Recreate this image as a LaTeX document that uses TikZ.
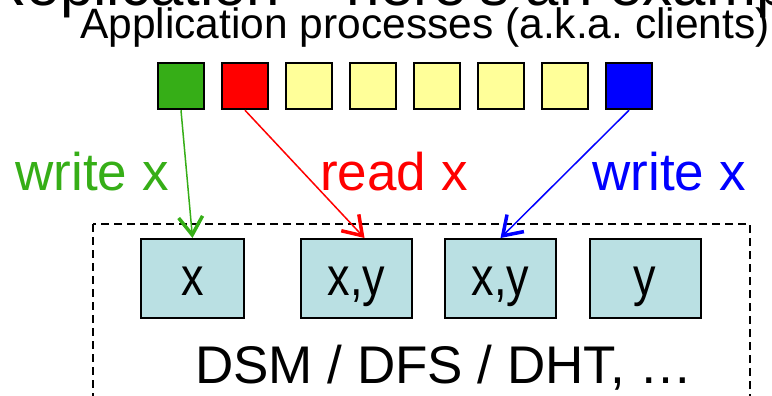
\documentclass[tikz,border=0pt]{standalone}
\usepackage{fontspec}
\setmainfont{Liberation Sans}
\usepackage{tikz}
\usetikzlibrary{arrows.meta,positioning}
\definecolor{app-green}{HTML}{36AE17}
\definecolor{app-yellow}{HTML}{FFFF99}
\definecolor{app-red}{HTML}{FF0000}
\definecolor{app-blue}{HTML}{0000FF}
\definecolor{store-fill}{HTML}{BAE0E3}
\newcommand{\tallx}[1]{\scalebox{1}[1.2]{#1}}
\frenchspacing

\begin{document}
\begin{tikzpicture}[x=1pt, y=-1pt, node distance=15.5pt,
    proc/.style={draw, line width=2.5pt, minimum size=46pt, inner sep=0pt},
    store/.style={draw, line width=2pt, fill=store-fill, minimum width=111pt, minimum height=79pt,
        inner sep=0pt, text height=34pt, text depth=0pt, font=\fontsize{45}{45}\selectfont},
    op/.style={line width=1.5pt, -{Straight Barb[length=18pt,width=24pt,line width=3.5pt]}},
    lbl/.style={font=\fontsize{53}{53}\selectfont, anchor=base}]
    \useasboundingbox (0,0) rectangle (772,396);
    \clip (0,0) rectangle (772,396);
    % slide title, mostly cut off
    \node[anchor=base west, font=\fontsize{60}{60}\selectfont] (title) at (-20,6) {Replication – here's an example};
    \node[anchor=base, font=\fontsize{42.5}{42.5}\selectfont] (apps) at (425,39) {Application processes (a.k.a. clients)};
    % clients
    \node[proc, fill=app-green] (p1) at (181,86) {};
    \node[proc, fill=app-red, right=of p1] (p2) {};
    \node[proc, fill=app-yellow, right=of p2] (p3) {};
    \node[proc, fill=app-yellow, right=of p3] (p4) {};
    \node[proc, fill=app-yellow, right=of p4] (p5) {};
    \node[proc, fill=app-yellow, right=of p5] (p6) {};
    \node[proc, fill=app-yellow, right=of p6] (p7) {};
    \node[proc, fill=app-blue, right=of p7] (p8) {};
    % shared store
    \draw[line width=1.5pt, dash pattern=on 8pt off 5pt] (93,224) rectangle (750,420);
    \node[store, minimum width=103pt] (s1) at (192.5,278.5) {\tallx{x}};
    \node[store] (s2) at (356.5,278.5) {\tallx{x,y}};
    \node[store] (s3) at (500.5,278.5) {\tallx{x,y}};
    \node[store] (s4) at (645,278.5) {\tallx{y}};
    \node[anchor=base, font=\fontsize{53}{53}\selectfont] (dsm) at (444,383) {DSM / DFS / DHT, …};
    % operations
    \draw[op, app-green] (p1.south) -- (s1.north);
    \draw[op, app-red] (p2.south) -- ([xshift=8pt]s2.north);
    \draw[op, app-blue] (p8.south) -- (s3.north);
    \node[lbl, text=app-green] (w1) at (92,190) {write x};
    \node[lbl, text=app-red] (r1) at (394,190) {read x};
    \node[lbl, text=app-blue] (w2) at (669,190) {write x};
\end{tikzpicture}
\end{document}
